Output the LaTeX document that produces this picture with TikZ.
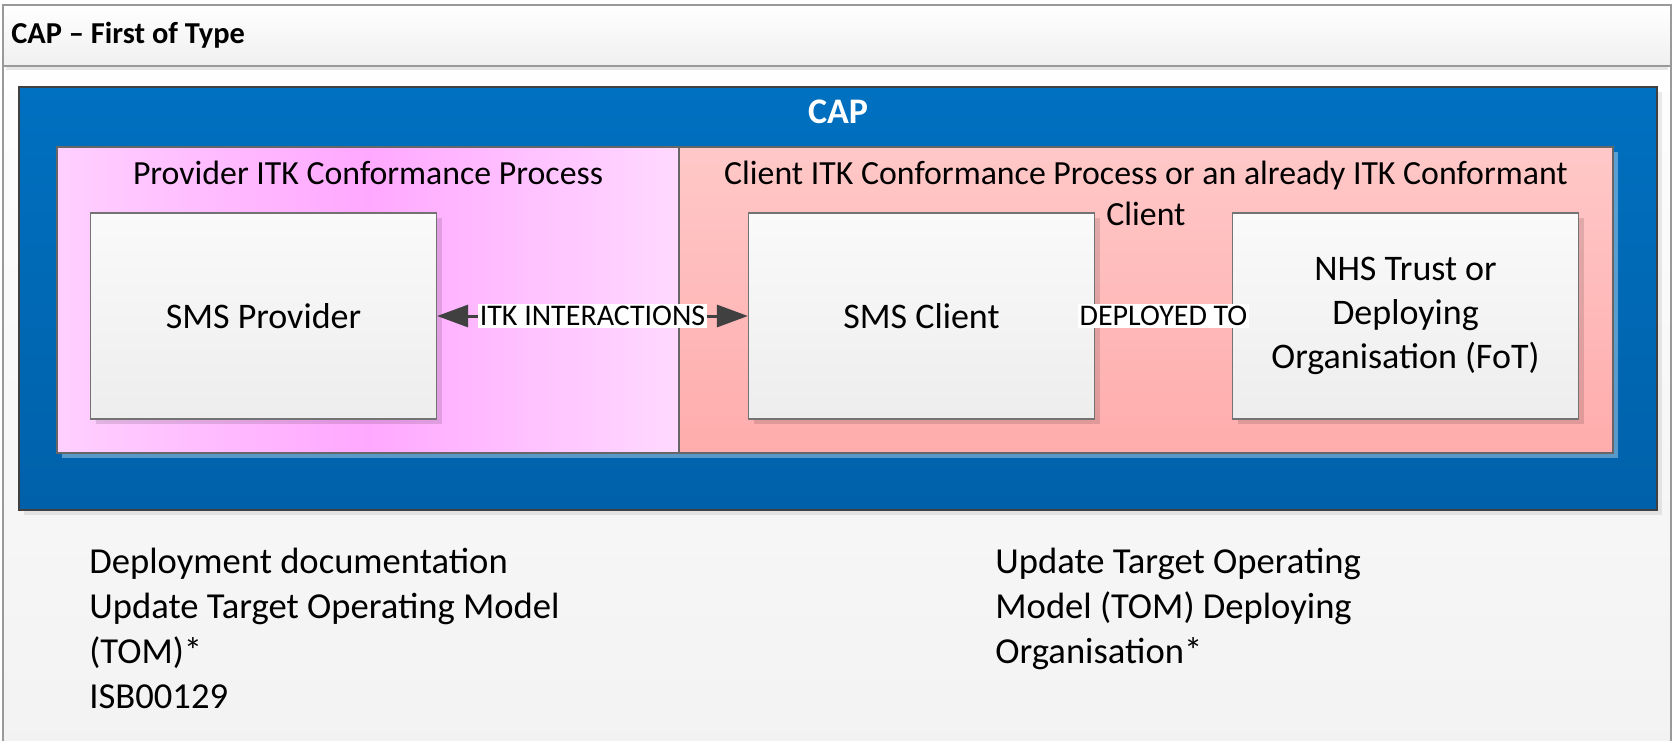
\documentclass[tikz,border=0pt]{standalone}
\usepackage{fontspec}
\setmainfont{Carlito}
\usetikzlibrary{arrows.meta,shadows,positioning}

\definecolor{capblue}{RGB}{0,112,192}
\definecolor{capbluedk}{RGB}{0,97,170}
\definecolor{lilac}{RGB}{255,208,255}
\definecolor{lilacdk}{RGB}{255,168,255}
\definecolor{salmon}{RGB}{255,200,200}
\definecolor{salmondk}{RGB}{255,172,172}
\definecolor{linkgray}{RGB}{64,64,64}

\begin{document}
\begin{tikzpicture}[x=0.5pt,y=-0.5pt,
  frame/.style={draw=gray!80,line width=0.7pt},
  cap box/.style={draw=linkgray,line width=0.7pt,top color=capblue,bottom color=capbluedk,
    minimum width=819pt,minimum height=211.5pt,inner sep=0pt,
    drop shadow={shadow xshift=2.5pt,shadow yshift=-2.5pt,fill=black,opacity=.08}},
  group box/.style={draw=black!60,line width=0.6pt,minimum height=153pt,inner sep=0pt,
    drop shadow={shadow xshift=2.5pt,shadow yshift=-2.5pt,fill=white,opacity=.35}},
  group title/.style={font=\fontsize{16.9}{20.5}\selectfont,align=center},
  main node/.style={draw=black!55,line width=0.6pt,top color=white!98!black,bottom color=black!7,
    minimum width=173pt,minimum height=103pt,inner sep=0pt,align=center,
    font=\fontsize{18}{22.2}\selectfont,
    drop shadow={shadow xshift=2.5pt,shadow yshift=-2.5pt,fill=black,opacity=.12}},
  link/.style={draw=linkgray,line width=1.5pt,{Triangle[length=15.5pt,width=11pt]}-{Triangle[length=15.5pt,width=11pt]}},
  link label/.style={fill=white,inner sep=1pt,font=\fontsize{15}{18}\selectfont},
  note/.style={anchor=north west,inner sep=0pt,align=left,font=\fontsize{18.3}{22.5}\selectfont}]

  \useasboundingbox (0,0) rectangle (1673,740);
  \fill[top color=white,bottom color=black!5,frame] (3,5) rectangle (1671,745);
  \fill[black!10] (6,66) rectangle (1668,70);
  \filldraw[frame,top color=white,bottom color=black!6] (3,5) rectangle (1671,66);
  \node[anchor=west,inner sep=0pt,font=\fontsize{15.2}{18}\selectfont\bfseries] (title) at (11,35) {CAP – First of Type};

  \node[cap box] (cap) at (838,298.5) {};
  \node[font=\fontsize{18}{22}\selectfont\bfseries,text=white] (captitle) at (838,112) {CAP};

  \node[group box,minimum width=311pt,left color=lilac,right color=lilac!80,middle color=lilacdk] (provgrp) at (368,300) {};
  \node[group box,minimum width=467pt,top color=salmon,bottom color=salmondk] (clientgrp) at (1146,300) {};
  \node[group title] (provtitle) at (368,173) {Provider ITK Conformance Process};
  \node[group title] (clienttitle) at (1146,193) {Client ITK Conformance Process or an already ITK Conformant\\Client};

  \node[main node] (provider) at (263.5,316) {SMS Provider};
  \node[main node] (client) at (921.5,316) {SMS Client};
  \node[main node] (trust) at (1405.5,316) {NHS Trust or\\Deploying\\Organisation (FoT)};

  \draw[link] (provider) -- node[link label] {ITK INTERACTIONS} (client);
  \draw[link,{Triangle[length=15.5pt,width=11pt]}-] (trust) -- node[link label] {DEPLOYED TO} (client);

  \node[note] (leftnote) at (89,548) {Deployment documentation\\Update Target Operating Model\\(TOM)*\\ISB00129};
  \node[note] (rightnote) at (995,548) {Update Target Operating\\Model (TOM) Deploying\\Organisation*};
\end{tikzpicture}
\end{document}
